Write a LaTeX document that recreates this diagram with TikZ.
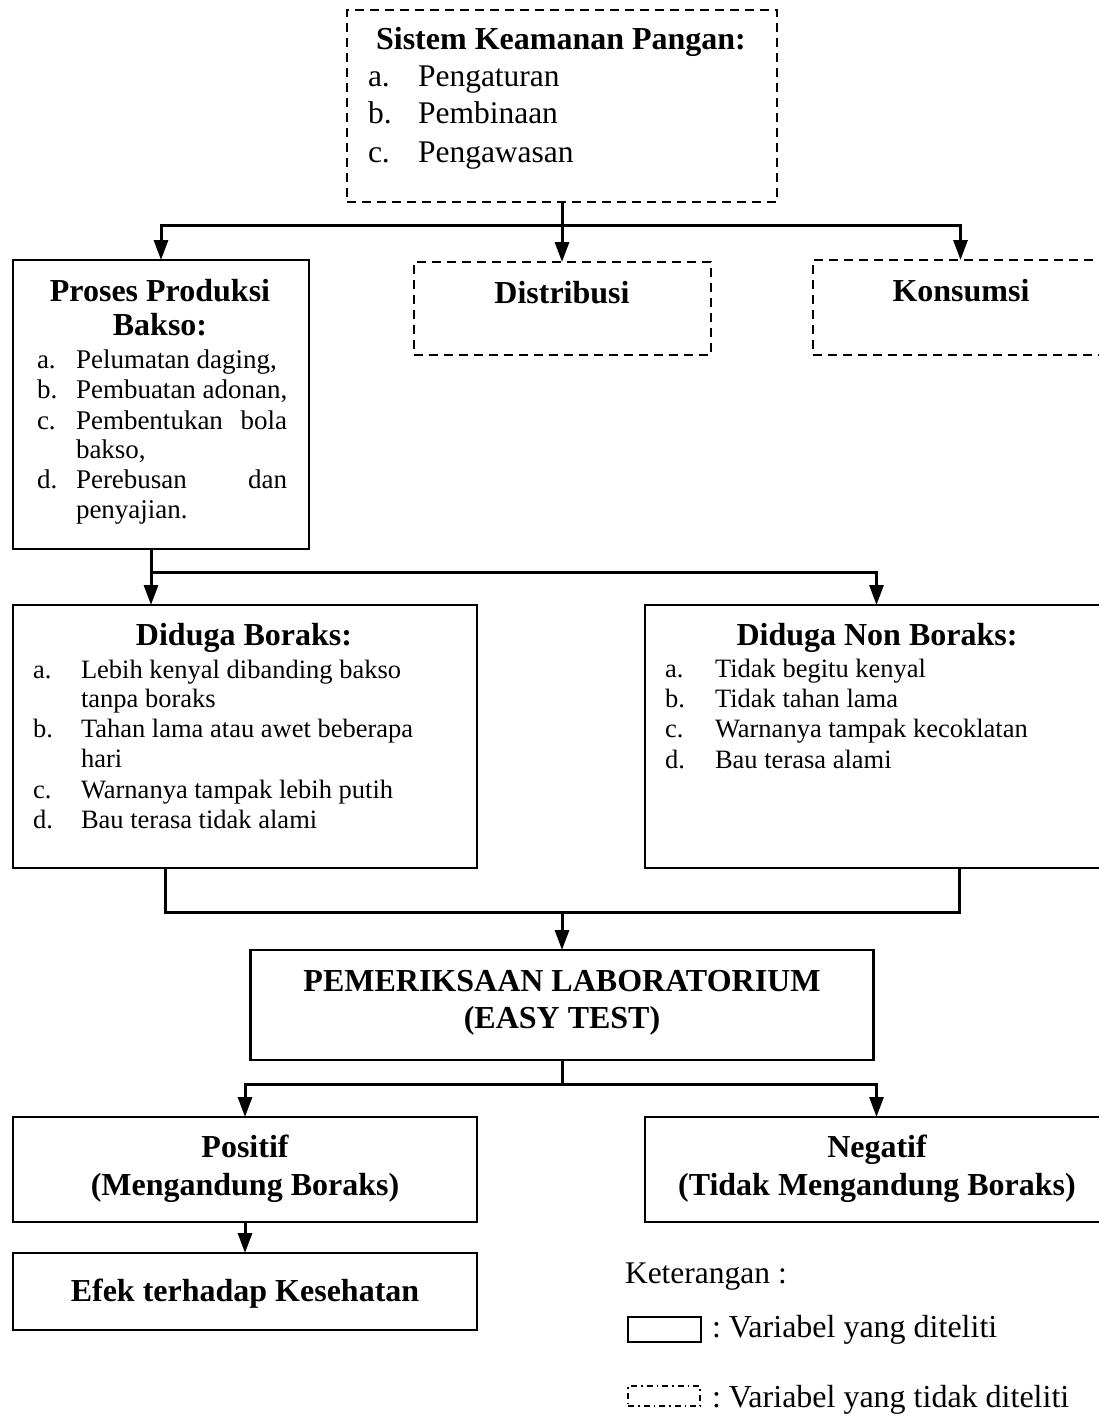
\documentclass[tikz,border=0pt]{standalone}
\usepackage{fontspec}
\setmainfont{Liberation Serif}
\usetikzlibrary{arrows.meta}
\begin{document}
\frenchspacing
\begin{tikzpicture}[x=1pt,y=-1pt,
  box/.style={draw, line width=2.2pt, rectangle, inner sep=0pt, outer sep=0pt},
  dbox/.style={box, line width=2pt, dash pattern=on 9pt off 6pt},
  conn/.style={line width=3pt},
  arr/.style={line width=3pt, -{Triangle[width=14pt,length=20pt]}},
  txt/.style={inner sep=0pt, outer sep=0pt, anchor=base},
  ttl/.style={txt, font=\fontsize{32}{38}\selectfont\bfseries},
  big/.style={txt, anchor=base west, font=\fontsize{31.5}{37}\selectfont},
  itm/.style={txt, anchor=base west, font=\fontsize{26.5}{30}\selectfont},
  pitm/.style={txt, anchor=base west, font=\fontsize{27}{30}\selectfont}
]
\useasboundingbox (0,0) rectangle (1099,1418);
\clip (0,0) rectangle (1099,1418);

% boxes
\node[dbox, minimum width=430pt, minimum height=192pt] (top) at (562,106) {};
\node[box, minimum width=296pt, minimum height=289pt] (proses) at (161,404.5) {};
\node[dbox, minimum width=297pt, minimum height=93pt] (distr) at (562,308.5) {};
\node[dbox, minimum width=295pt, minimum height=95pt] (kons) at (960.5,307.5) {};
\node[box, minimum width=464pt, minimum height=263pt] (boraks) at (245,736.5) {};
\node[box, minimum width=463pt, minimum height=263pt] (nonb) at (876.5,736.5) {};
\node[box, minimum width=623pt, minimum height=110pt] (lab) at (562,1005) {};
\node[box, minimum width=464pt, minimum height=105pt] (pos) at (245,1169.5) {};
\node[box, minimum width=463pt, minimum height=105pt] (neg) at (876.5,1169.5) {};
\node[box, minimum width=464pt, minimum height=77pt] (efek) at (245,1291.5) {};
\node[draw, line width=1.8pt, inner sep=0pt, minimum width=73pt, minimum height=25pt] (lsolid) at (664.5,1329.5) {};
\node[draw, line width=1.4pt, inner sep=0pt, minimum width=72pt, minimum height=20pt,
      dash pattern=on 6pt off 4pt on 1.5pt off 4pt] (ldash) at (664,1396) {};

% connectors
\coordinate (j1) at (562,225);
\draw[conn] (top.south) -- (j1);
\draw[arr] (j1) -| (proses.north);
\draw[arr] (j1) -- (distr.north);
\draw[arr] (j1) -| (kons.north);

\coordinate (pb) at (151,549);
\coordinate (j2) at (151,572);
\draw[conn] (pb) -- (j2);
\draw[arr] (j2) -- (boraks.north -| j2);
\draw[arr] (j2) -| (nonb.north);

\coordinate (bb) at (165,868);
\coordinate (nb) at (959,868);
\coordinate (j3) at (562,912);
\draw[conn] (bb) |- (j3) -| (nb);
\draw[arr] (j3) -- (lab.north);

\coordinate (j4) at (562,1084);
\draw[conn] (lab.south) -- (j4);
\draw[arr] (j4) -| (pos.north);
\draw[arr] (j4) -| (neg.north);

\draw[arr] (pos.south) -- (efek.north);

% texts: top
\node[ttl] (t0) at (561,50) {Sistem Keamanan Pangan:};
\node[big] (t1a) at (368,87) {a.};
\node[big] (t1) at (418,87) {Pengaturan};
\node[big] (t2a) at (368,124) {b.};
\node[big] (t2) at (418,124) {Pembinaan};
\node[big] (t3a) at (368,162) {c.};
\node[big] (t3) at (418,162) {Pengawasan};

\node[ttl] (dt) at (562,303) {Distribusi};
\node[ttl] (kt) at (961,301) {Konsumsi};

% proses
\node[ttl] (pt1) at (160,301) {Proses Produksi};
\node[ttl] (pt2) at (160,335) {Bakso:};
\node[pitm] (pa) at (37,368) {a.};
\node[pitm] (pat) at (76,368) {Pelumatan daging,};
\node[pitm] (pbb) at (37,398) {b.};
\node[pitm] (pbt) at (76,398) {Pembuatan adonan,};
\node[pitm] (pc) at (37,429) {c.};
\node[pitm] (pct) at (76,429) {\makebox[211pt][l]{Pembentukan\hfill bola}};
\node[pitm] (pct2) at (76,458) {bakso,};
\node[pitm] (pd) at (37,488) {d.};
\node[pitm] (pdt) at (76,488) {\makebox[211pt][l]{Perebusan\hfill dan}};
\node[pitm] (pdt2) at (76,518) {penyajian.};

% boraks
\node[ttl] (bt) at (244,645) {Diduga Boraks:};
\node[itm] (ba) at (33,678) {a.};
\node[itm] (bat) at (81,678) {Lebih kenyal dibanding bakso};
\node[itm] (bat2) at (81,707) {tanpa boraks};
\node[itm] (bbl) at (33,737) {b.};
\node[itm] (bbt) at (81,737) {Tahan lama atau awet beberapa};
\node[itm] (bbt2) at (81,767) {hari};
\node[itm] (bc) at (33,798) {c.};
\node[itm] (bct) at (81,798) {Warnanya tampak lebih putih};
\node[itm] (bd) at (33,828) {d.};
\node[itm] (bdt) at (81,828) {Bau terasa tidak alami};

% non boraks
\node[ttl] (nt) at (877,645) {Diduga Non Boraks:};
\node[itm] (na) at (665,677) {a.};
\node[itm] (nat) at (715,677) {Tidak begitu kenyal};
\node[itm] (nbl) at (665,707) {b.};
\node[itm] (nbt) at (715,707) {Tidak tahan lama};
\node[itm] (nc) at (665,737) {c.};
\node[itm] (nct) at (715,737) {Warnanya tampak kecoklatan};
\node[itm] (nd) at (665,768) {d.};
\node[itm] (ndt) at (715,768) {Bau terasa alami};

% lab
\node[ttl] (lt1) at (562,991) {PEMERIKSAAN LABORATORIUM};
\node[ttl] (lt2) at (562,1028) {(EASY TEST)};

\node[ttl] (pst1) at (245,1157) {Positif};
\node[ttl] (pst2) at (245,1195) {(Mengandung Boraks)};
\node[ttl] (ngt1) at (877,1157) {Negatif};
\node[ttl] (ngt2) at (877,1195) {(Tidak Mengandung Boraks)};

\node[ttl] (et) at (245,1301) {Efek terhadap Kesehatan};

% legend
\node[big] (ket) at (625,1283) {Keterangan :};
\node[big, font=\fontsize{32}{38}\selectfont] (l1) at (712,1337) {: Variabel yang diteliti};
\node[big, font=\fontsize{32}{38}\selectfont] (l2) at (712,1407) {: Variabel yang tidak diteliti};
\end{tikzpicture}
\end{document}
